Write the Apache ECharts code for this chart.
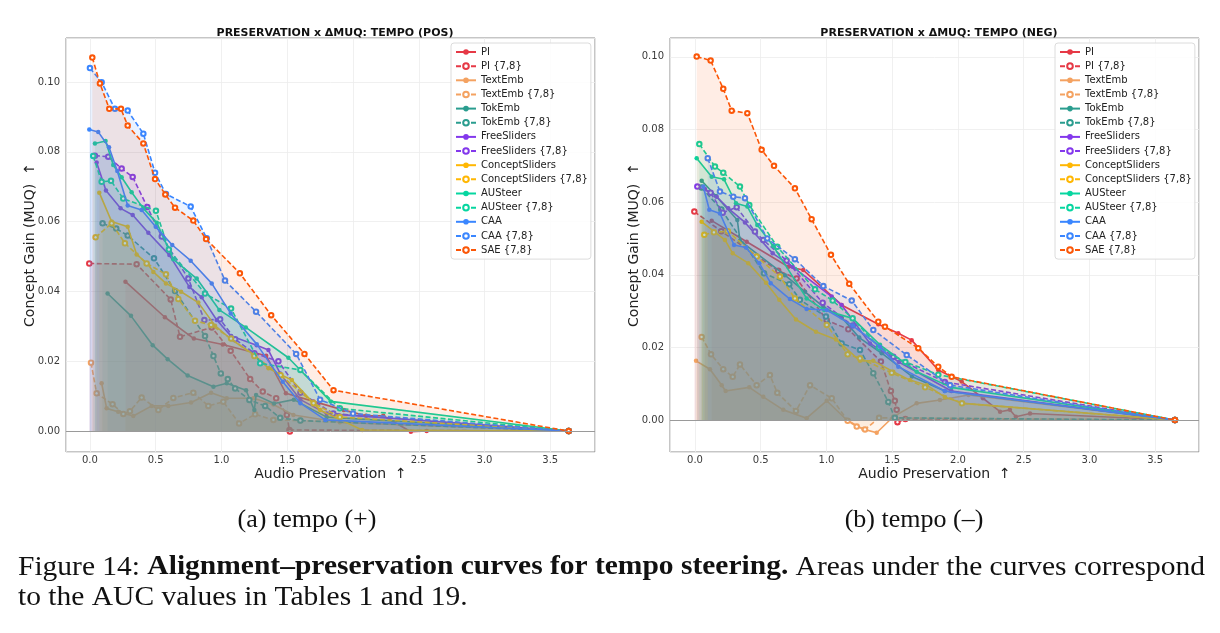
<!DOCTYPE html>
<html><head><meta charset="utf-8">
<script src="https://cdn.jsdelivr.net/npm/echarts@6/dist/echarts.min.js"></script>
<style>html,body{margin:0;padding:0;background:#fff}#c{width:1220px;height:633px}</style>
</head><body><div id="c"></div><script>
// ---------- data (x = Audio Preservation, y = Concept Gain) ----------
const seriesNames = ['PI','PI {7,8}','TextEmb','TextEmb {7,8}','TokEmb','TokEmb {7,8}','FreeSliders','FreeSliders {7,8}','ConceptSliders','ConceptSliders {7,8}','AUSteer','AUSteer {7,8}','CAA','CAA {7,8}','SAE {7,8}'];
const seriesColors = ['#e63946','#e63946','#f4a261','#f4a261','#2a9d8f','#2a9d8f','#8338ec','#8338ec','#ffb703','#ffb703','#06d6a0','#06d6a0','#3a86ff','#3a86ff','#fb5607'];
const seriesDashed = [false,true,false,true,false,true,false,true,false,true,false,true,false,true,true];
const xTicks = [0,0.5,1,1.5,2,2.5,3,3.5];
const yTicks = [0,0.02,0.04,0.06,0.08,0.10];

// tempo (+)
const pos_PI = [[0.27,0.0428],[0.57,0.0326],[0.79,0.0265],[1.01,0.0248],[1.34,0.0216],[1.49,0.0108],[1.70,0.0085],[1.93,0.006],[2.10,0.0044],[2.23,0.0044],[2.44,-0.0002],[2.56,0.0],[3.64,0]];
const pos_PI78 = [[-0.005,0.048],[0.355,0.0478],[0.614,0.0377],[0.685,0.027],[0.926,0.0297],[1.07,0.023],[1.218,0.0149],[1.314,0.0113],[1.416,0.0094],[1.497,0.0046],[1.517,0.0003],[1.52,-0.0001],[3.64,0]];
const pos_TextEmb = [[0.089,0.0137],[0.127,0.0065],[0.215,0.0055],[0.33,0.0043],[0.47,0.0072],[0.596,0.0072],[0.769,0.0082],[0.921,0.011],[1.04,0.0094],[1.243,0.0094],[1.395,0.0076],[1.547,0.0046],[1.9,0.0025],[3.64,0]];
const pos_TextEmb78 = [[0.008,0.0196],[0.051,0.0108],[0.172,0.0077],[0.254,0.0049],[0.304,0.0057],[0.393,0.0096],[0.52,0.006],[0.634,0.0095],[0.786,0.011],[0.9,0.0072],[1.014,0.0084],[1.134,0.0022],[1.256,0.0048],[1.395,0.0032],[1.6,0.003],[3.64,0]];
const pos_TokEmb = [[0.134,0.0394],[0.312,0.033],[0.477,0.0246],[0.591,0.0206],[0.743,0.0159],[0.939,0.0127],[1.04,0.0137],[1.187,0.0117],[1.25,0.006],[1.263,0.0103],[1.4,0.0079],[1.55,0.009],[1.8,0.004],[3.64,0]];
const pos_TokEmb78 = [[0.096,0.0595],[0.2,0.058],[0.287,0.056],[0.487,0.0495],[0.647,0.0401],[0.875,0.0272],[0.939,0.0215],[0.995,0.0165],[1.048,0.0149],[1.104,0.0122],[1.212,0.0089],[1.332,0.0072],[1.446,0.0038],[1.6,0.003],[3.64,0]];
const pos_FreeSliders = [[0.051,0.0769],[0.122,0.0689],[0.233,0.0638],[0.325,0.0619],[0.444,0.0568],[0.604,0.0504],[0.756,0.0413],[0.85,0.0383],[0.964,0.0318],[1.073,0.0272],[1.268,0.0246],[1.357,0.0232],[1.446,0.0165],[1.6,0.009],[1.8,0.005],[3.64,0]];
const pos_FreeSliders78 = [[0.038,0.0789],[0.139,0.0786],[0.241,0.0752],[0.325,0.0728],[0.436,0.0642],[0.546,0.0557],[0.748,0.0437],[0.87,0.0318],[0.99,0.032],[1.104,0.0263],[1.25,0.0223],[1.433,0.02],[1.6,0.011],[1.85,0.005],[3.64,0]];
const pos_ConceptSliders = [[0.071,0.0683],[0.165,0.06],[0.287,0.0585],[0.355,0.0506],[0.436,0.048],[0.482,0.0456],[0.578,0.0423],[0.693,0.0399],[0.824,0.0368],[0.951,0.0302],[1.073,0.0263],[1.25,0.0218],[1.357,0.018],[1.535,0.0146],[1.75,0.006],[2.07,0.0003],[3.64,0]];
const pos_ConceptSliders78 = [[0.043,0.0555],[0.165,0.0595],[0.266,0.0538],[0.431,0.048],[0.578,0.0449],[0.672,0.0378],[0.799,0.0316],[0.921,0.0304],[1.073,0.0265],[1.25,0.0215],[1.45,0.016],[1.7,0.008],[1.9,0.004],[3.64,0]];
const pos_AUSteer = [[0.038,0.0824],[0.119,0.0831],[0.177,0.0762],[0.241,0.0727],[0.317,0.0684],[0.406,0.0638],[0.508,0.0597],[0.634,0.0492],[0.812,0.0437],[0.984,0.0347],[1.185,0.0297],[1.509,0.021],[1.83,0.0085],[3.64,0]];
const pos_AUSteer78 = [[0.025,0.0788],[0.089,0.0714],[0.16,0.0717],[0.253,0.0666],[0.502,0.0631],[0.6,0.052],[0.875,0.0394],[1.073,0.0351],[1.294,0.0194],[1.6,0.0175],[1.9,0.0065],[3.64,0]];
const pos_CAA = [[-0.005,0.0864],[0.063,0.0857],[0.145,0.0813],[0.208,0.0745],[0.287,0.0646],[0.393,0.0633],[0.5,0.0585],[0.626,0.0533],[0.766,0.0488],[0.926,0.0423],[1.07,0.0337],[1.268,0.0249],[1.466,0.0141],[1.6,0.008],[1.79,0.0032],[3.64,0]];
const pos_CAA78 = [[0.0,0.104],[0.089,0.0999],[0.19,0.0923],[0.287,0.0918],[0.406,0.0852],[0.495,0.074],[0.578,0.0679],[0.766,0.0643],[0.888,0.0552],[1.027,0.0431],[1.263,0.0342],[1.568,0.0221],[1.75,0.009],[2.0,0.005],[3.64,0]];
const pos_SAE78 = [[0.018,0.107],[0.076,0.0996],[0.147,0.0923],[0.236,0.0923],[0.287,0.0875],[0.406,0.0824],[0.495,0.0722],[0.573,0.0678],[0.647,0.064],[0.786,0.0603],[0.883,0.055],[1.14,0.0452],[1.378,0.0332],[1.631,0.0221],[1.852,0.0117],[3.64,0]];

// tempo (-)
const neg_PI = [[0.127,0.0549],[0.393,0.0491],[0.71,0.0422],[0.824,0.0413],[1.115,0.0317],[1.394,0.0264],[1.546,0.0239],[1.648,0.022],[1.85,0.0138],[2.028,0.0106],[2.19,0.006],[2.32,0.0023],[2.395,0.0028],[2.44,0.0009],[2.548,0.0018],[3.65,0]];
const neg_PI78 = [[-0.005,0.0574],[0.2,0.052],[0.633,0.0411],[0.773,0.039],[1.002,0.0275],[1.166,0.025],[1.414,0.0161],[1.49,0.008],[1.52,0.0053],[1.534,0.0028],[1.54,-0.0006],[1.6,0.0003],[3.65,0]];
const neg_TextEmb = [[0.008,0.0163],[0.114,0.014],[0.203,0.0096],[0.233,0.008],[0.413,0.009],[0.519,0.0064],[0.671,0.0028],[0.849,0.0005],[1.002,0.0053],[1.154,0.0],[1.28,-0.0025],[1.382,-0.0035],[1.508,0.0009],[1.686,0.0046],[1.863,0.0055],[2.08,0.0069],[3.65,0]];
const neg_TextEmb78 = [[0.051,0.0229],[0.122,0.0181],[0.215,0.014],[0.287,0.0119],[0.342,0.0153],[0.469,0.0096],[0.57,0.0124],[0.626,0.0075],[0.768,0.0025],[0.875,0.0096],[1.04,0.006],[1.161,-0.0002],[1.23,-0.0018],[1.293,-0.0026],[1.4,0.0006],[3.65,0]];
const neg_TokEmb = [[0.051,0.0659],[0.16,0.0617],[0.322,0.0551],[0.342,0.0494],[0.684,0.0399],[0.837,0.0353],[0.976,0.0312],[1.115,0.0283],[1.249,0.0227],[1.42,0.0184],[1.65,0.012],[1.9,0.008],[3.65,0]];
const neg_TokEmb78 = [[0.05,0.064],[0.2,0.058],[0.525,0.0404],[0.717,0.0374],[0.798,0.0331],[0.996,0.0285],[1.115,0.0211],[1.255,0.0193],[1.356,0.0129],[1.47,0.005],[1.52,0.0006],[3.65,0]];
const neg_FreeSliders = [[0.076,0.0636],[0.165,0.0615],[0.253,0.0583],[0.38,0.0544],[0.591,0.0459],[0.743,0.0422],[1.04,0.034],[1.115,0.0317],[1.331,0.0211],[1.55,0.016],[1.95,0.008],[3.65,0]];
const neg_FreeSliders78 = [[0.018,0.0643],[0.119,0.0626],[0.211,0.0571],[0.317,0.0586],[0.456,0.0519],[0.519,0.0496],[0.697,0.0439],[0.971,0.0323],[1.2,0.026],[1.508,0.0174],[1.9,0.0105],[3.65,0]];
const neg_ConceptSliders = [[0.051,0.0546],[0.228,0.0496],[0.287,0.0459],[0.405,0.0432],[0.54,0.0378],[0.641,0.0331],[0.768,0.0277],[0.92,0.0243],[1.072,0.0222],[1.255,0.0163],[1.356,0.0163],[1.508,0.0133],[1.635,0.011],[1.762,0.0096],[1.901,0.0063],[2.04,0.0046],[3.65,0]];
const neg_ConceptSliders78 = [[0.071,0.051],[0.144,0.0517],[0.25,0.052],[0.469,0.045],[0.646,0.0395],[0.76,0.0335],[1.002,0.0262],[1.161,0.0181],[1.255,0.017],[1.496,0.013],[1.75,0.009],[2.03,0.0046],[3.65,0]];
const neg_AUSteer = [[0.013,0.0721],[0.127,0.067],[0.221,0.0663],[0.312,0.0597],[0.398,0.0588],[0.474,0.0537],[0.595,0.0479],[0.849,0.0335],[0.983,0.0303],[1.199,0.028],[1.407,0.0207],[1.686,0.0133],[1.95,0.009],[3.65,0]];
const neg_AUSteer78 = [[0.033,0.076],[0.152,0.0698],[0.215,0.0681],[0.342,0.0643],[0.413,0.0592],[0.626,0.0477],[0.913,0.036],[1.047,0.0329],[1.199,0.028],[1.4,0.02],[1.6,0.016],[1.85,0.0125],[3.65,0]];
const neg_CAA = [[0.063,0.0643],[0.109,0.0579],[0.19,0.0569],[0.297,0.0482],[0.388,0.0475],[0.489,0.0432],[0.576,0.0377],[0.722,0.0333],[0.849,0.0306],[1.002,0.0303],[1.2,0.026],[1.407,0.0202],[1.546,0.0147],[1.9,0.008],[3.65,0]];
const neg_CAA78 = [[0.097,0.0721],[0.19,0.0629],[0.291,0.0615],[0.38,0.0611],[0.55,0.05],[0.76,0.0443],[0.976,0.0369],[1.192,0.0329],[1.356,0.0248],[1.61,0.0179],[1.94,0.0096],[3.65,0]];
const neg_SAE78 = [[0.013,0.1001],[0.119,0.099],[0.215,0.0912],[0.279,0.0852],[0.398,0.0845],[0.507,0.0744],[0.601,0.07],[0.76,0.0638],[0.887,0.0553],[1.034,0.0455],[1.173,0.0375],[1.394,0.0271],[1.445,0.0257],[1.698,0.0198],[1.85,0.0147],[1.952,0.0119],[3.65,0]];

const posSets = [pos_PI,pos_PI78,pos_TextEmb,pos_TextEmb78,pos_TokEmb,pos_TokEmb78,pos_FreeSliders,pos_FreeSliders78,pos_ConceptSliders,pos_ConceptSliders78,pos_AUSteer,pos_AUSteer78,pos_CAA,pos_CAA78,pos_SAE78];
const negSets = [neg_PI,neg_PI78,neg_TextEmb,neg_TextEmb78,neg_TokEmb,neg_TokEmb78,neg_FreeSliders,neg_FreeSliders78,neg_ConceptSliders,neg_ConceptSliders78,neg_AUSteer,neg_AUSteer78,neg_CAA,neg_CAA78,neg_SAE78];

// caption text
const captionLine1 = [['Figure',0],['14:',0],['Alignment\u2013preservation',1],['curves',1],['for',1],['tempo',1],['steering.',1],['Areas',0],['under',0],['the',0],['curves',0],['correspond',0]];
const captionLine2 = 'to the AUC values in Tables 1 and 19.';

// ---------- chart ----------
const FONT = 'DejaVu Sans';
const SERIF = '"Liberation Serif"';
const SUB_FS = 26, CAP_FS = 27, CAP_SX = 1.093;
const chart = echarts.init(document.getElementById('c'), null, {renderer:'canvas'});

function mkSeries(i, data, gi){
  const c = seriesColors[i], d = seriesDashed[i];
  return {
    type:'line', name:seriesNames[i], xAxisIndex:gi, yAxisIndex:gi, data:data,
    symbol: d ? 'emptyCircle' : 'circle', symbolSize: 4.5, showSymbol:true,
    lineStyle:{color:c, width:1.6, type: d ? [5,2.5] : 'solid'},
    itemStyle:{color:c, borderColor:c, borderWidth: d ? 1.1 : 0},
    areaStyle:{color:c, opacity:0.105},
    emphasis:{disabled:true}, animation:false, z: 2 + i*0.01
  };
}
const series = [];
posSets.forEach((d,i)=>series.push(mkSeries(i,d,0)));
negSets.forEach((d,i)=>series.push(mkSeries(i,d,1)));
[0,1].forEach(gi=>series.push({type:'line', xAxisIndex:gi, yAxisIndex:gi, data:[], silent:true, z:1,
  markLine:{silent:true, symbol:'none', label:{show:false}, lineStyle:{color:'#9a9a9a', width:1, type:'solid'}, data:[{yAxis:0}]}}));

function xAxis(gi, min, max){
  return {type:'value', gridIndex:gi, min:min, max:max, minInterval:0.5, maxInterval:0.5,
    name:'Audio Preservation  \u2191', nameLocation:'middle', nameGap:15, nameMoveOverlap:false,
    nameTextStyle:{fontFamily:FONT, fontSize:14, color:'#222'},
    axisLine:{show:false}, axisTick:{show:false},
    axisLabel:{fontFamily:FONT, fontSize:10, color:'#3a3a3a', margin:3, showMinLabel:false, showMaxLabel:false,
      formatter:v=> xTicks.some(t=>Math.abs(t-v)<1e-9) ? v.toFixed(1) : ''},
    splitLine:{show:true, lineStyle:{color:'#ececec', width:0.8}}};
}
function yAxis(gi, min, max){
  return {type:'value', gridIndex:gi, min:min, max:max, minInterval:0.02, maxInterval:0.02,
    name:'Concept Gain (MUQ)  \u2191', nameLocation:'middle', nameGap:29, nameMoveOverlap:false,
    nameTextStyle:{fontFamily:FONT, fontSize:14, color:'#222'},
    axisLine:{show:false}, axisTick:{show:false},
    axisLabel:{fontFamily:FONT, fontSize:10, color:'#3a3a3a', margin:6, showMinLabel:false, showMaxLabel:false,
      formatter:v=> yTicks.some(t=>Math.abs(t-v)<1e-9) ? v.toFixed(2) : ''},
    splitLine:{show:true, lineStyle:{color:'#ececec', width:0.8}}};
}
function legend(left){
  return {data:seriesNames, orient:'vertical', left:left, top:43,
    itemWidth:20, itemHeight:7, itemGap:4.15, padding:[4,3,4,4],
    backgroundColor:'rgba(255,255,255,0.85)', borderColor:'#dcdcdc', borderWidth:1, borderRadius:3,
    textStyle:{fontFamily:FONT, fontSize:10, color:'#222'}, selectedMode:false};
}

// justified caption line (measured with the installed serif font)
const mctx = document.createElement('canvas').getContext('2d');
function fontStr(bold, fs){ return (bold?'bold ':'') + fs + 'px ' + SERIF; }
const widths = captionLine1.map(w=>{ mctx.font = fontStr(w[1], CAP_FS); return mctx.measureText(w[0]).width * CAP_SX; });
const x0 = 18, x1 = 1205;
const gap = (x1 - x0 - widths.reduce((a,b)=>a+b,0)) / (captionLine1.length - 1);
const graphics = [
  {type:'text', x:307, y:507, style:{text:'(a) tempo (+)', fill:'#111', font:SUB_FS+'px '+SERIF, align:'center', verticalAlign:'top'}},
  {type:'text', x:914, y:507, style:{text:'(b) tempo (\u2013)', fill:'#111', font:SUB_FS+'px '+SERIF, align:'center', verticalAlign:'top'}},
  {type:'text', x:18, y:584, scaleX:CAP_SX, style:{text:captionLine2, fill:'#111', font:fontStr(0, CAP_FS), verticalAlign:'top'}}
];
let cx = x0;
captionLine1.forEach((w,i)=>{
  graphics.push({type:'text', x:cx, y:554, scaleX:CAP_SX, style:{text:w[0], fill:'#111', font:fontStr(w[1], CAP_FS), verticalAlign:'top'}});
  cx += widths[i] + gap;
});

const option = {
  backgroundColor:'#fff',
  animation:false,
  title:[
    {text:'PRESERVATION x \u0394MUQ: TEMPO (POS)', left:330, top:23, textAlign:'center',
     textStyle:{fontFamily:FONT, fontSize:11, fontWeight:'bold', color:'#111'}},
    {text:'PRESERVATION x \u0394MUQ: TEMPO (NEG)', left:934, top:23, textAlign:'center',
     textStyle:{fontFamily:FONT, fontSize:11, fontWeight:'bold', color:'#111'}}
  ],
  grid:[
    {left:66, top:38, width:529, height:414, show:true, borderColor:'#8c8c8c', borderWidth:1, backgroundColor:'transparent'},
    {left:670, top:38, width:529, height:414, show:true, borderColor:'#8c8c8c', borderWidth:1, backgroundColor:'transparent'}
  ],
  xAxis:[xAxis(0,-0.182,3.84), xAxis(1,-0.19,3.833)],
  yAxis:[yAxis(0,-0.006,0.1126), yAxis(1,-0.0088,0.1052)],
  legend:[legend(451), legend(1055)],
  series:series,
  graphic:graphics
};
chart.setOption(option);
</script></body></html>
